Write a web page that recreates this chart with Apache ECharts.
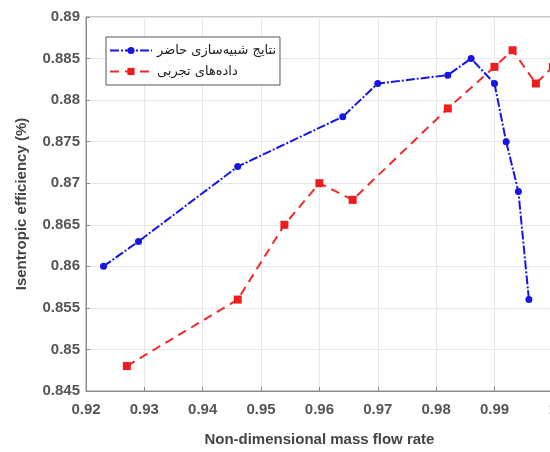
<!DOCTYPE html>
<html><head><meta charset="utf-8">
<script src="https://cdn.jsdelivr.net/npm/echarts@6/dist/echarts.min.js"></script>
<style>html,body{margin:0;padding:0;overflow:hidden;background:#fff}#c{width:560px;height:452px}</style>
</head><body><div id="c"></div>
<script>
const simX = [0.923, 0.929, 0.946, 0.964, 0.970, 0.982, 0.986, 0.990, 0.992, 0.9941, 0.9959];
const simY = [0.860, 0.863, 0.872, 0.878, 0.882, 0.883, 0.885, 0.882, 0.875, 0.869, 0.856];
const expX = [0.927, 0.946, 0.954, 0.960, 0.9657, 0.982, 0.990, 0.9931, 0.9971, 1.0];
const expY = [0.848, 0.856, 0.865, 0.870, 0.868, 0.879, 0.884, 0.886, 0.882, 0.884];
const seriesNames = ['نتایج شبیه‌سازی حاضر', 'داده‌های تجربی'];
const xName = 'Non-dimensional mass flow rate';
const yName = 'Isentropic efficiency (%)';

const fmt = v => String(Number(v.toFixed(4)));
const chart = echarts.init(document.getElementById('c'));
const labelStyle = {color:'#555', fontSize:15, fontWeight:'bold', fontFamily:'Liberation Sans, Arial'};
chart.setOption({
  animation:false,
  backgroundColor:'#fff',
  grid:{left:86, right:6, top:17, bottom:54, show:true, borderColor:'#8a8a8a', borderWidth:1},
  legend:{
    orient:'vertical', left:106, top:37, itemWidth:42, itemHeight:9, itemGap:8,
    padding:[7,4,7,3], borderColor:'#555', borderWidth:1, backgroundColor:'#fff',
    textStyle:{fontSize:13, color:'#222', fontFamily:'DejaVu Sans'},
    data:seriesNames
  },
  xAxis:{
    type:'value', min:0.92, max:1.0, interval:0.01,
    name:xName, nameLocation:'middle', nameGap:41,
    nameTextStyle:{color:'#444', fontSize:15, fontWeight:'bold', fontFamily:'Liberation Sans, Arial'},
    axisLine:{show:true, lineStyle:{color:'#8a8a8a'}},
    axisTick:{show:true, inside:true, length:4, lineStyle:{color:'#8a8a8a'}},
    axisLabel:{...labelStyle, margin:11, formatter:fmt},
    splitLine:{show:true, lineStyle:{color:'#e6e6e6'}}
  },
  yAxis:{
    type:'value', min:0.845, max:0.89, interval:0.005,
    name:yName, nameLocation:'middle', nameGap:57, nameRotate:90,
    nameTextStyle:{color:'#444', fontSize:15, fontWeight:'bold', fontFamily:'Liberation Sans, Arial'},
    axisLine:{show:true, lineStyle:{color:'#8a8a8a'}},
    axisTick:{show:true, inside:true, length:4, lineStyle:{color:'#8a8a8a'}},
    axisLabel:{...labelStyle, margin:6, formatter:fmt},
    splitLine:{show:true, lineStyle:{color:'#e6e6e6'}}
  },
  series:[
    {name:seriesNames[0], type:'line', data:simX.map((x,i)=>[x,simY[i]]),
     symbol:'circle', symbolSize:7, itemStyle:{color:'#1515e6'},
     lineStyle:{color:'#1515e6', width:2, type:[9,2,2,2]}},
    {name:seriesNames[1], type:'line', data:expX.map((x,i)=>[x,expY[i]]),
     symbol:'rect', symbolSize:8, itemStyle:{color:'#ee1c1c'},
     lineStyle:{color:'#ee2a2a', width:2, type:[9,6]}}
  ]
});
</script></body></html>
